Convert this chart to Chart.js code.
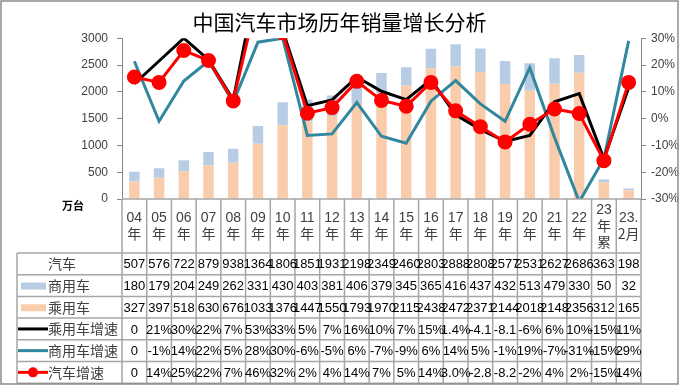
<!DOCTYPE html>
<html>
<head>
<meta charset="utf-8">
<script src="https://cdn.jsdelivr.net/npm/chart.js@4"></script>
<style>
  body { margin: 0; background: #fff; }
  #wrap { width: 679px; height: 386px; }
</style>
</head>
<body>
<div id="wrap"><canvas id="chart" width="679" height="386"></canvas></div>
<script>
// Category labels (two or three lines each, as in the header row)
const categories = [
    ["04", "年"], ["05", "年"], ["06", "年"], ["07", "年"], ["08", "年"], ["09", "年"], ["10", "年"],
    ["11", "年"], ["12", "年"], ["13", "年"], ["14", "年"], ["15", "年"], ["16", "年"], ["17", "年"],
    ["18", "年"], ["19", "年"], ["20", "年"], ["21", "年"], ["22", "年"], ["23", "年", "累"], ["23.", "2月"]
];

// Sales (万台)
const carTotal   = [507, 576, 722, 879, 938, 1364, 1806, 1851, 1931, 2198, 2349, 2460, 2803, 2888, 2808, 2577, 2531, 2627, 2686, 363, 198];
const commercial = [180, 179, 204, 249, 262, 331, 430, 403, 381, 406, 379, 345, 365, 416, 437, 432, 513, 479, 330, 50, 32];
const passenger  = [327, 397, 518, 630, 676, 1033, 1376, 1447, 1550, 1793, 1970, 2115, 2438, 2472, 2371, 2144, 2018, 2148, 2356, 312, 165];

// Growth lines as plotted (%)
const passengerGrowth  = [13, 21.5, 30, 22, 7, 53, 33, 4.8, 7, 15.5, 10.2, 7.1, 14.5, 1.4, -4, -8.5, -6.3, 6.3, 9.3, -15, 11.5];
const commercialGrowth = [21.4, -1, 14, 21.5, 6, 28.5, 30, -6.3, -5.7, 6, -6.6, -9.2, 6.5, 14.2, 5.5, -1, 19, -7, -31, -15, 29];
const carGrowth        = [15.5, 13.5, 25.4, 21.7, 6.6, 46, 32, 2, 4.1, 13.9, 6.8, 4.6, 13.5, 2.9, -3, -8.7, -2.1, 3.6, 1.9, -15.7, 13.5];

// Growth as printed in the table
const passengerGrowthText  = ["0", "21%", "30%", "22%", "7%", "53%", "33%", "5%", "7%", "16%", "10%", "7%", "15%", "1.4%", "-4.1", "-8.1", "-6%", "6%", "10%", "-15%", "11%"];
const commercialGrowthText = ["0", "-1%", "14%", "22%", "5%", "28%", "30%", "-6%", "-5%", "6%", "-7%", "-9%", "6%", "14%", "5%", "-1%", "19%", "-7%", "-31%", "-15%", "29%"];
const carGrowthText        = ["0", "14%", "25%", "22%", "7%", "46%", "32%", "2%", "4%", "14%", "7%", "5%", "14%", "3.0%", "-2.8", "-8.2", "-2%", "4%", "2%", "-15%", "14%"];

const BLUE = "#B8CCE4", PEACH = "#F9CDAC", TEAL = "#31879E", RED = "#FF0000";
const CJK = "'Noto Sans CJK SC', sans-serif";
const NUM = "'Liberation Sans', sans-serif";

// Data table under the plot
const tablePlugin = {
    id: "dataTable",
    afterDraw(chart) {
        const ctx = chart.ctx;
        const x = chart.scales.x;
        const area = chart.chartArea;
        const n = categories.length;
        const colW = (area.right - area.left) / n;
        const headTop = 199, headBottom = 253, rowH = 21.7, tableLeft = 17;
        const rows = [
            { name: "汽车", values: carTotal.map(String) },
            { name: "商用车", values: commercial.map(String), mark: "box", color: BLUE },
            { name: "乘用车", values: passenger.map(String), mark: "box", color: PEACH },
            { name: "乘用车增速", values: passengerGrowthText, mark: "line", color: "#000" },
            { name: "商用车增速", values: commercialGrowthText, mark: "line", color: TEAL },
            { name: "汽车增速", values: carGrowthText, mark: "dot", color: RED }
        ];
        const bottom = headBottom + rowH * rows.length;

        ctx.save();
        ctx.strokeStyle = "#A6A6A6";
        ctx.lineWidth = 1.5;
        ctx.beginPath();
        // header frame
        ctx.moveTo(area.left, headTop); ctx.lineTo(area.right, headTop);
        for (let i = 0; i <= n; i++) {
            const cx = area.left + i * colW;
            ctx.moveTo(cx, headTop); ctx.lineTo(cx, bottom);
        }
        for (let r = 0; r <= rows.length; r++) {
            const y = headBottom + r * rowH;
            ctx.moveTo(tableLeft, y); ctx.lineTo(area.right, y);
        }
        ctx.moveTo(tableLeft, headBottom); ctx.lineTo(tableLeft, bottom);
        ctx.stroke();

        // header labels
        ctx.fillStyle = "#404040";
        ctx.textAlign = "center";
        ctx.textBaseline = "middle";
        categories.forEach((lines, i) => {
            const cx = x.getPixelForValue(i);
            const lh = 15.5;
            const y0 = (headTop + headBottom) / 2 - (lines.length - 1) * lh / 2;
            lines.forEach((t, k) => {
                ctx.font = /[0-9.]/.test(t) && !/月/.test(t) ? "14px " + NUM : "14px " + CJK;
                ctx.fillText(t, cx, y0 + k * lh);
            });
        });

        // unit label
        ctx.fillStyle = "#000";
        ctx.font = "bold 11px " + CJK;
        ctx.fillText("万台", 73, 206);

        // rows
        rows.forEach((row, r) => {
            const cy = headBottom + r * rowH + rowH / 2;
            ctx.font = "14px " + CJK;
            ctx.fillStyle = "#404040";
            if (!row.mark) {
                ctx.textAlign = "center";
                ctx.fillText(row.name, 62, cy);
            } else {
                if (row.mark === "box") {
                    ctx.fillStyle = row.color;
                    ctx.fillRect(21, cy - 3, 25, 7);
                } else {
                    ctx.strokeStyle = row.color;
                    ctx.lineWidth = 3;
                    ctx.beginPath();
                    ctx.moveTo(18, cy); ctx.lineTo(48, cy);
                    ctx.stroke();
                    if (row.mark === "dot") {
                        ctx.fillStyle = row.color;
                        ctx.beginPath();
                        ctx.arc(33, cy, 5, 0, Math.PI * 2);
                        ctx.fill();
                    }
                }
                ctx.fillStyle = "#404040";
                ctx.textAlign = "left";
                ctx.fillText(row.name, 48, cy);
            }
            ctx.textAlign = "center";
            ctx.font = "13px " + NUM;
            ctx.fillStyle = "#000";
            row.values.forEach((v, i) => ctx.fillText(v, x.getPixelForValue(i), cy + 1));
        });

        // outer frame of the chart
        ctx.strokeStyle = "#8C8C8C";
        ctx.lineWidth = 1.5;
        ctx.strokeRect(1, 1, 677, 383);
        ctx.restore();
    }
};

const ctx = document.getElementById("chart").getContext("2d");
new Chart(ctx, {
    type: "bar",
    data: {
        labels: categories,
        datasets: [
            { type: "line", label: "汽车增速", data: carGrowth, yAxisID: "y1", borderColor: RED, backgroundColor: RED,
              borderWidth: 3, pointRadius: 6, pointHoverRadius: 6, pointBackgroundColor: RED, pointBorderColor: RED, tension: 0, order: 1 },
            { type: "line", label: "乘用车增速", data: passengerGrowth, yAxisID: "y1", borderColor: "#000",
              borderWidth: 3, pointRadius: 0, tension: 0, order: 2 },
            { type: "line", label: "商用车增速", data: commercialGrowth, yAxisID: "y1", borderColor: TEAL,
              borderWidth: 3, pointRadius: 0, tension: 0, order: 3 },
            { label: "乘用车", data: passenger, backgroundColor: PEACH, stack: "s", yAxisID: "y",
              barPercentage: 0.5, categoryPercentage: 0.85, order: 5 },
            { label: "商用车", data: commercial, backgroundColor: BLUE, stack: "s", yAxisID: "y",
              barPercentage: 0.5, categoryPercentage: 0.85, order: 5 }
        ]
    },
    options: {
        responsive: false,
        animation: false,
        layout: { padding: { left: 0, right: 0, top: 0, bottom: 187 } },
        plugins: {
            legend: { display: false },
            tooltip: { enabled: false },
            title: {
                display: true,
                text: "中国汽车市场历年销量增长分析",
                color: "#000",
                font: { family: CJK, size: 21, weight: "normal", lineHeight: 1.2 },
                padding: { top: 9, bottom: 4 }
            }
        },
        scales: {
            x: { display: false, stacked: true },
            y: {
                position: "left",
                stacked: true,
                min: 0, max: 3000,
                afterFit: s => { s.width = 122; },
                ticks: { stepSize: 500, color: "#404040", font: { family: NUM, size: 12 }, padding: 9,
                         callback: v => String(v) },
                grid: { drawOnChartArea: false, tickLength: 5, color: "#868686" },
                border: { color: "#868686" }
            },
            y1: {
                position: "right",
                min: -30, max: 30,
                afterFit: s => { s.width = 38; },
                ticks: { stepSize: 10, color: "#404040", font: { family: NUM, size: 12 }, padding: 5,
                         callback: v => v + "%" },
                grid: { drawOnChartArea: false, tickLength: 5, color: "#868686" },
                border: { color: "#868686" }
            }
        }
    },
    plugins: [tablePlugin]
});
</script>
</body>
</html>
